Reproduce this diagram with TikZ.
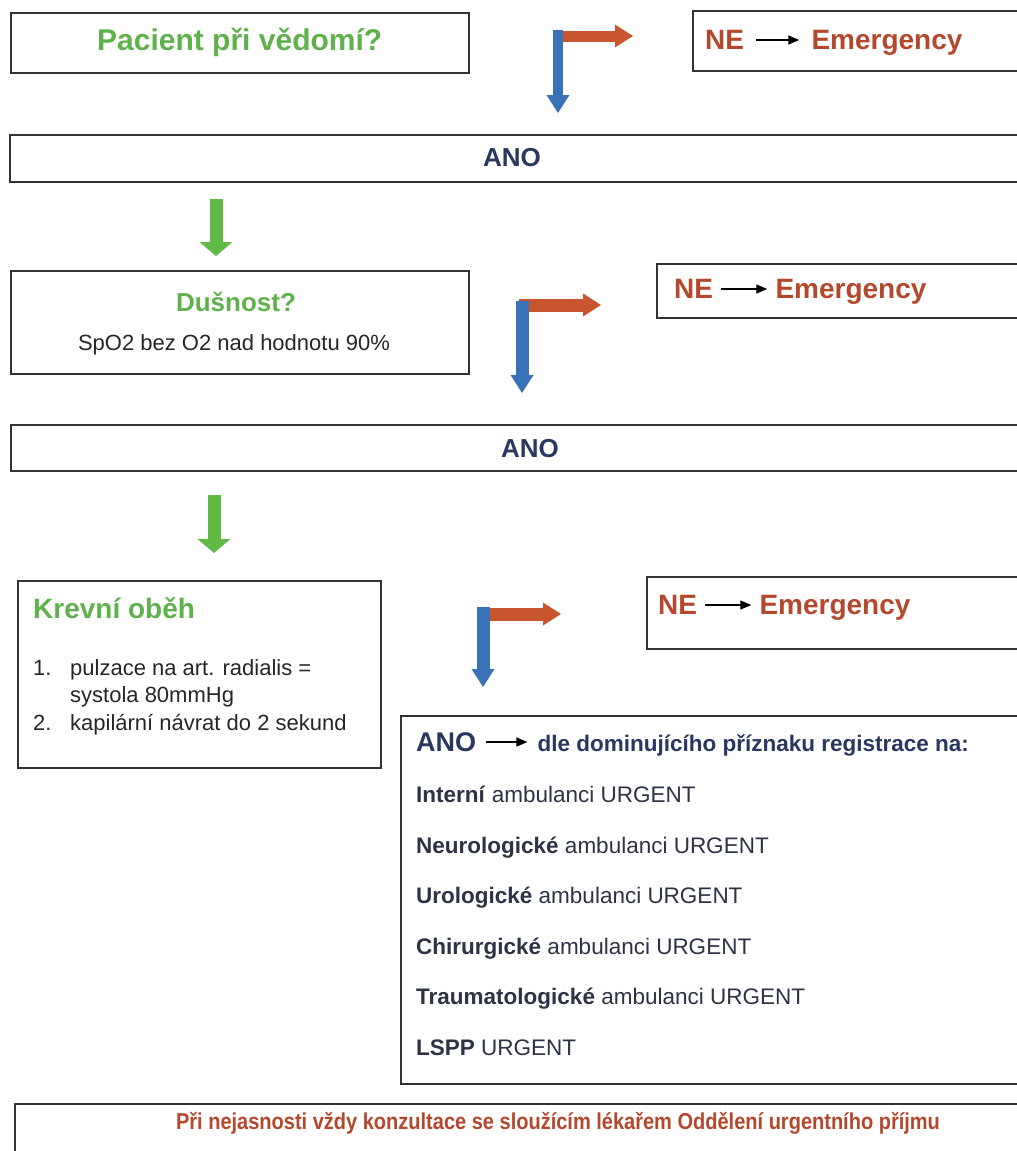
\documentclass[tikz,border=0pt]{standalone}
\usepackage{fontspec}
\setmainfont{Liberation Sans}
\newfontfamily\narrowsans[FakeStretch=0.87]{Liberation Sans}
\usetikzlibrary{arrows.meta,positioning}

\definecolor{okgreen}{RGB}{95,178,75}
\definecolor{rust}{RGB}{180,72,44}
\definecolor{navy}{RGB}{42,55,95}
\definecolor{ink}{RGB}{45,50,68}
\definecolor{arrgreen}{RGB}{98,186,70}
\definecolor{arrorange}{RGB}{200,85,45}
\definecolor{arrblue}{RGB}{58,114,184}

\tikzset{
	frame/.style={draw=black!80, line width=1.5pt, inner sep=0pt, anchor=north west},
	txt/.style={inner sep=0pt},
	plain/.style={txt, text=black!85, font=\fontsize{22}{26}\selectfont},
	ne/.style={txt, text=rust, font=\bfseries\fontsize{28}{34}\selectfont},
	ano/.style={txt, text=navy, font=\bfseries\fontsize{26}{31}\selectfont},
	fat/.style={line width=13pt, -{Triangle[length=18pt,width=23pt,line width=0pt]}},
	fatgreen/.style={draw=arrgreen, line width=13pt, -{Triangle[length=14pt,width=33pt,line width=0pt]}},
	pointer/.style={draw=black, line width=1.3pt, -{Triangle[length=11pt,width=9pt]}, shorten <=12pt, shorten >=12pt}
}

\begin{document}
\begin{tikzpicture}[x=1pt, y=-1pt]
	\path[use as bounding box] (0,0) rectangle (1017,1151);
	\clip (0,0) rectangle (1017,1151);

	% question 1
	\node[frame, minimum width=458pt, minimum height=60pt, text=okgreen, font=\bfseries\fontsize{30}{36}\selectfont] (q1) at (10,12) {Pacient při vědomí?};
	\node[frame, minimum width=400pt, minimum height=60pt] (ne1) at (692,10) {};
	\node[ne, anchor=west] (ne1a) at (705,40) {NE};
	\node[ne, base right=67pt of ne1a] (ne1b) {Emergency};
	\draw[pointer] (ne1a.east) -- (ne1a.east -| ne1b.west);
	\coordinate (o1s) at (563,36);
	\coordinate (o1e) at (633,36);
	\coordinate (b1s) at (558,30);
	\coordinate (b1e) at (558,113);
	\draw[fat, draw=arrorange, line width=11pt] (o1s) -- (o1e);
	\draw[fat, draw=arrblue, line width=10pt] (b1s) -- (b1e);

	\node[frame, minimum width=1030pt, minimum height=47pt] (bar1) at (9,134) {};
	\node[ano] (ano1) at (512,158) {ANO};
	\coordinate (g1s) at (216,199);
	\coordinate (g1e) at (216,256);
	\draw[fatgreen] (g1s) -- (g1e);

	% question 2
	\node[frame, minimum width=458pt, minimum height=103pt] (q2) at (10,270) {};
	\node[txt, text=okgreen, font=\bfseries\fontsize{26}{31}\selectfont] (q2a) at (236,302) {Dušnost?};
	\node[plain] (q2b) at (234,345) {SpO2 bez O2 nad hodnotu 90\%};
	\node[frame, minimum width=400pt, minimum height=54pt] (ne2) at (656,263) {};
	\node[ne, anchor=west] (ne2a) at (674,289) {NE};
	\node[ne, base right=62pt of ne2a] (ne2b) {Emergency};
	\draw[pointer, shorten <=8pt, shorten >=8pt] (ne2a.east) -- (ne2a.east -| ne2b.west);
	\coordinate (o2s) at (519,305);
	\coordinate (o2e) at (601,305);
	\coordinate (b2s) at (522,301);
	\coordinate (b2e) at (522,393);
	\draw[fat, draw=arrorange] (o2s) -- (o2e);
	\draw[fat, draw=arrblue] (b2s) -- (b2e);

	\node[frame, minimum width=1030pt, minimum height=46pt] (bar2) at (10,424) {};
	\node[ano] (ano2) at (530,449) {ANO};
	\coordinate (g2s) at (214,495);
	\coordinate (g2e) at (214,553);
	\draw[fatgreen] (g2s) -- (g2e);

	% question 3
	\node[frame, minimum width=363pt, minimum height=187pt] (q3) at (17,580) {};
	\node[txt, anchor=west, text=okgreen, font=\bfseries\fontsize{28}{33}\selectfont] (q3a) at (33,608) {Krevní oběh};
	\node[plain, anchor=base west] (k1n) at (33,675) {1.};
	\node[plain, anchor=base west] (k1) at (70,675) {pulzace na art. radialis =};
	\node[plain, anchor=base west] (k1b) at (70,702) {systola 80mmHg};
	\node[plain, anchor=base west] (k2n) at (33,730) {2.};
	\node[plain, anchor=base west] (k2) at (70,730) {kapilární návrat do 2 sekund};
	\node[frame, minimum width=400pt, minimum height=72pt] (ne3) at (646,576) {};
	\node[ne, anchor=west] (ne3a) at (658,605) {NE};
	\node[ne, base right=62pt of ne3a] (ne3b) {Emergency};
	\draw[pointer, shorten <=8pt, shorten >=8pt] (ne3a.east) -- (ne3a.east -| ne3b.west);
	\coordinate (o3s) at (480,614);
	\coordinate (o3e) at (561,614);
	\coordinate (b3s) at (483,607);
	\coordinate (b3e) at (483,687);
	\draw[fat, draw=arrorange] (o3s) -- (o3e);
	\draw[fat, draw=arrblue] (b3s) -- (b3e);

	% registration
	\node[frame, minimum width=640pt, minimum height=368pt] (reg) at (400,715) {};
	\node[txt, anchor=west, text=navy, font=\bfseries\fontsize{27}{32}\selectfont] (rega) at (416,742) {ANO};
	\node[txt, text=navy, font=\bfseries\fontsize{22.5}{27}\selectfont, base right=61pt of rega] (regb) {dle dominujícího příznaku registrace na:};
	\draw[pointer, shorten <=10pt, shorten >=10pt] (rega.east) -- (rega.east -| regb.west);
	\foreach \dept/\tail [count=\i] in {Interní/ambulanci URGENT, Neurologické/ambulanci URGENT, Urologické/ambulanci URGENT, Chirurgické/ambulanci URGENT, Traumatologické/ambulanci URGENT, LSPP/URGENT}
		\node[txt, anchor=base west, text=ink, font=\fontsize{22.5}{27}\selectfont] (amb\i) at (416,752+50.5*\i) {\textbf{\dept} \tail};

	% note
	\node[frame, minimum width=1030pt, minimum height=80pt] (note) at (14,1103) {};
	\node[txt, text=rust, font=\narrowsans\bfseries\fontsize{23}{27}\selectfont] (notet) at (558,1123) {Při nejasnosti vždy konzultace se sloužícím lékařem Oddělení urgentního příjmu};
\end{tikzpicture}
\end{document}
